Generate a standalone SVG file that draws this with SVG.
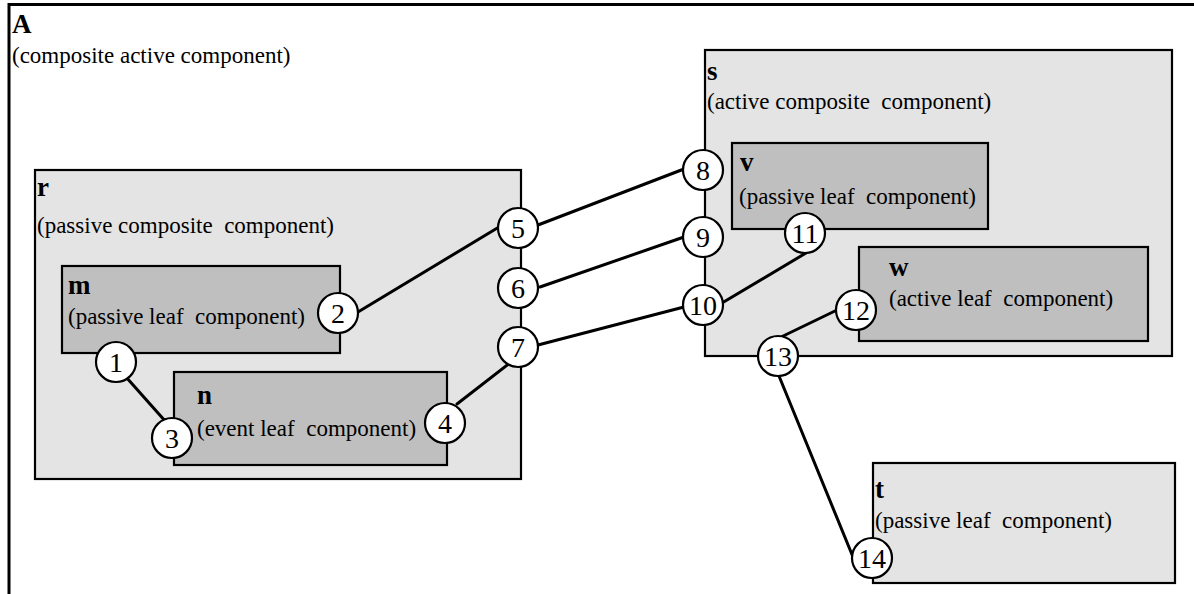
<svg xmlns="http://www.w3.org/2000/svg" width="1194" height="594" viewBox="0 0 1194 594">
<style>
text { font-family: "Liberation Serif", "Times New Roman", serif; fill: #000; white-space: pre; }
.t { font-size: 27px; font-weight: bold; }
.d { font-size: 23px; }
.n { font-size: 28px; text-anchor: middle; }
.light { fill: #e4e4e4; stroke: #000; stroke-width: 2.2; }
.dark { fill: #bfbfbf; stroke: #000; stroke-width: 2.2; }
.port { fill: #fff; stroke: #000; stroke-width: 2.2; }
.conn line { stroke: #000; stroke-width: 3; stroke-linecap: round; }
</style>
<rect width="1194" height="594" fill="#fff"/>
<g id="A">
  <path d="M9,594 V4.5 H1194" fill="none" stroke="#000" stroke-width="3"/>
  <text class="t" x="12" y="33">A</text>
  <text class="d" x="12" y="63">(composite active component)</text>
</g>
<g id="r">
  <rect class="light" x="35" y="170" width="486" height="309"/>
  <text class="t" x="37" y="196">r</text>
  <text class="d" x="37" y="233" xml:space="preserve">(passive composite  component)</text>
</g>
<g id="m">
  <rect class="dark" x="62" y="266" width="278" height="87"/>
  <text class="t" x="68" y="294">m</text>
  <text class="d" x="68" y="324" xml:space="preserve">(passive leaf  component)</text>
</g>
<g id="n">
  <rect class="dark" x="174" y="372" width="273" height="93"/>
  <text class="t" x="197" y="404">n</text>
  <text class="d" x="197" y="436" xml:space="preserve">(event leaf  component)</text>
</g>
<g id="s">
  <rect class="light" x="705" y="50" width="467" height="306"/>
  <text class="t" x="707" y="80">s</text>
  <text class="d" x="707" y="109" xml:space="preserve">(active composite  component)</text>
</g>
<g id="v">
  <rect class="dark" x="732" y="143" width="256" height="86"/>
  <text class="t" x="740" y="171">v</text>
  <text class="d" x="739" y="204" xml:space="preserve">(passive leaf  component)</text>
</g>
<g id="w">
  <rect class="dark" x="859" y="247" width="289" height="94"/>
  <text class="t" x="889" y="276">w</text>
  <text class="d" x="889" y="306" xml:space="preserve">(active leaf  component)</text>
</g>
<g id="t">
  <rect class="light" x="873" y="463" width="302" height="120"/>
  <text class="t" x="875" y="498">t</text>
  <text class="d" x="875" y="528" xml:space="preserve">(passive leaf  component)</text>
</g>
<g id="connectors" class="conn">
  <line x1="126" y1="377" x2="166" y2="422"/>
  <line x1="358" y1="312" x2="499" y2="227"/>
  <line x1="457" y1="404" x2="511" y2="362"/>
  <line x1="538" y1="225" x2="684" y2="169"/>
  <line x1="540" y1="287" x2="684" y2="237"/>
  <line x1="538" y1="345" x2="684" y2="307"/>
  <line x1="722" y1="303" x2="806" y2="253"/>
  <line x1="837" y1="310" x2="779" y2="338"/>
  <line x1="779" y1="376" x2="853" y2="557"/>
</g>
<g id="p1"><circle class="port" cx="116" cy="362" r="20"/><text class="n" x="116" y="372">1</text></g>
<g id="p2"><circle class="port" cx="338" cy="313" r="20"/><text class="n" x="338" y="323">2</text></g>
<g id="p3"><circle class="port" cx="172" cy="438" r="20"/><text class="n" x="172" y="448">3</text></g>
<g id="p4"><circle class="port" cx="445" cy="423" r="20"/><text class="n" x="445" y="433">4</text></g>
<g id="p5"><circle class="port" cx="518" cy="228" r="20"/><text class="n" x="518" y="238">5</text></g>
<g id="p6"><circle class="port" cx="518" cy="288" r="20"/><text class="n" x="518" y="298">6</text></g>
<g id="p7"><circle class="port" cx="518" cy="347" r="20"/><text class="n" x="518" y="357">7</text></g>
<g id="p8"><circle class="port" cx="703" cy="170" r="20"/><text class="n" x="703" y="180">8</text></g>
<g id="p9"><circle class="port" cx="703" cy="237" r="20"/><text class="n" x="703" y="247">9</text></g>
<g id="p10"><circle class="port" cx="703" cy="305" r="20"/><text class="n" x="703" y="315">10</text></g>
<g id="p11"><circle class="port" cx="805" cy="233" r="20"/><text class="n" x="805" y="243">11</text></g>
<g id="p12"><circle class="port" cx="856" cy="310" r="20"/><text class="n" x="856" y="320">12</text></g>
<g id="p13"><circle class="port" cx="778" cy="356" r="20"/><text class="n" x="778" y="366">13</text></g>
<g id="p14"><circle class="port" cx="872" cy="558" r="20"/><text class="n" x="872" y="568">14</text></g>
</svg>
